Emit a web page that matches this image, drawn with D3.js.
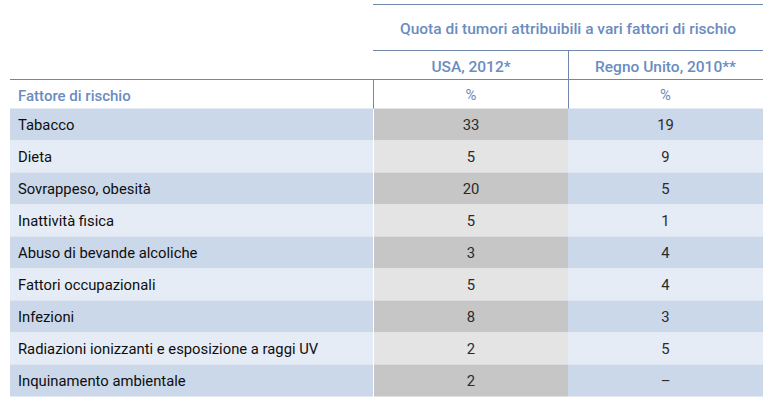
<!DOCTYPE html>
<html>
<head>
<meta charset="utf-8">
<script src="https://cdn.jsdelivr.net/npm/d3@7"></script>
<style>
  body { margin: 0; background: #fff; }
  text { font-family: Roboto, "Liberation Sans", sans-serif; }
</style>
</head>
<body>
<div id="chart"></div>
<script>
const factors = [
  "Tabacco",
  "Dieta",
  "Sovrappeso, obesità",
  "Inattività fisica",
  "Abuso di bevande alcoliche",
  "Fattori occupazionali",
  "Infezioni",
  "Radiazioni ionizzanti e esposizione a raggi UV",
  "Inquinamento ambientale"
];
const usa = [33, 5, 20, 5, 3, 5, 8, 2, 2];
const uk = [19, 9, 5, 1, 4, 4, 3, 5, null];
const columnLabels = ["USA, 2012*", "Regno Unito, 2010**"];
const title = "Quota di tumori attribuibili a vari fattori di rischio";

const width = 770, height = 408;
const headBlue = "#6b8cbf";
const lineColor = "#7086ad";

const svg = d3.select("#chart").append("svg")
  .attr("width", width)
  .attr("height", height);

// rows
const y = d3.scaleBand().domain(factors).range([108.5, 396.5]);
// columns: factor | usa | uk
const colEdges = { left: 10, usa: 374, uk: 568, right: 763 };

const rows = svg.selectAll("g.row")
  .data(factors)
  .enter()
  .append("g")
  .attr("class", "row")
  .attr("transform", d => `translate(0,${y(d)})`);

rows.append("rect")
  .attr("x", colEdges.left)
  .attr("width", colEdges.usa - 1 - colEdges.left)
  .attr("height", y.bandwidth())
  .attr("fill", (d, i) => i % 2 === 0 ? "#cbd8ea" : "#e6ecf5");

rows.append("rect")
  .attr("x", colEdges.usa)
  .attr("width", colEdges.uk - colEdges.usa)
  .attr("height", y.bandwidth())
  .attr("fill", (d, i) => i % 2 === 0 ? "#c6c6c6" : "#e4e4e4");

rows.append("rect")
  .attr("x", colEdges.uk)
  .attr("width", colEdges.right - colEdges.uk)
  .attr("height", y.bandwidth())
  .attr("fill", (d, i) => i % 2 === 0 ? "#cbd8ea" : "#e6ecf5");

rows.append("text")
  .attr("x", 18)
  .attr("y", y.bandwidth() / 2 + 5.5)
  .attr("font-size", "14.8px")
  .style("font-weight", 400)
  .attr("fill", "#0e0e0e")
  .text(d => d);

rows.append("text")
  .attr("x", (colEdges.usa + colEdges.uk) / 2)
  .attr("y", y.bandwidth() / 2 + 5.5)
  .attr("text-anchor", "middle")
  .attr("font-size", "14.8px")
  .style("font-weight", 400)
  .attr("fill", "#2a2a2a")
  .text((d, i) => usa[i] == null ? "–" : usa[i]);

rows.append("text")
  .attr("x", (colEdges.uk + colEdges.right) / 2)
  .attr("y", y.bandwidth() / 2 + 5.5)
  .attr("text-anchor", "middle")
  .attr("font-size", "14.8px")
  .style("font-weight", 400)
  .attr("fill", "#2a2a2a")
  .text((d, i) => uk[i] == null ? "–" : uk[i]);

// header lines
function hline(x1, x2, yy) {
  svg.append("line")
    .attr("x1", x1).attr("x2", x2)
    .attr("y1", yy).attr("y2", yy)
    .attr("stroke", lineColor).attr("stroke-width", 1);
}
function vline(xx, y1, y2) {
  svg.append("line")
    .attr("x1", xx).attr("x2", xx)
    .attr("y1", y1).attr("y2", y2)
    .attr("stroke", lineColor).attr("stroke-width", 1);
}
hline(373, colEdges.right, 4.5);
hline(373, colEdges.right, 50.5);
hline(colEdges.left, colEdges.right, 79.5);
vline(568.5, 50.5, 108.5);
vline(373.5, 79.5, 108.5);

svg.append("text")
  .attr("x", (373 + colEdges.right) / 2)
  .attr("y", 34)
  .attr("text-anchor", "middle")
  .attr("font-size", "15.5px")
  .style("font-weight", 500)
  .attr("fill", headBlue)
  .text(title);

svg.selectAll("text.colhead")
  .data(columnLabels)
  .enter()
  .append("text")
  .attr("class", "colhead")
  .attr("x", (d, i) => i === 0 ? (colEdges.usa + colEdges.uk) / 2 : (colEdges.uk + colEdges.right) / 2)
  .attr("y", 72)
  .attr("text-anchor", "middle")
  .attr("font-size", "15.5px")
  .style("font-weight", 500)
  .attr("fill", headBlue)
  .text(d => d);

svg.append("text")
  .attr("x", 18)
  .attr("y", 101)
  .attr("font-size", "15px")
  .style("font-weight", 500)
  .attr("fill", headBlue)
  .text("Fattore di rischio");

svg.selectAll("text.pct")
  .data(columnLabels)
  .enter()
  .append("text")
  .attr("class", "pct")
  .attr("x", (d, i) => i === 0 ? (colEdges.usa + colEdges.uk) / 2 : (colEdges.uk + colEdges.right) / 2)
  .attr("y", 100)
  .attr("text-anchor", "middle")
  .attr("font-size", "14.8px")
  .style("font-weight", 400)
  .attr("fill", headBlue)
  .text("%");
</script>
</body>
</html>
